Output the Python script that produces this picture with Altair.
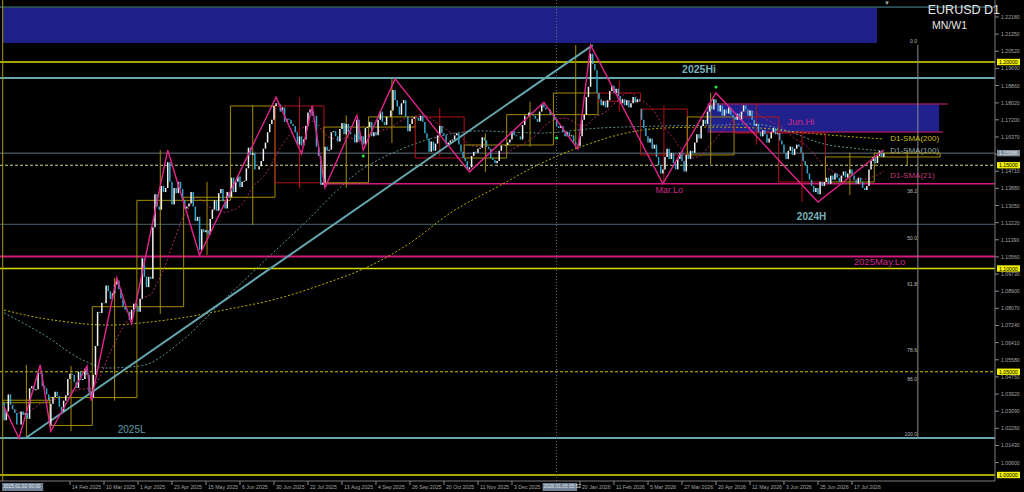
import altair as alt
import numpy as np
import pandas as pd

# ------------------------------------------------------------------ daily closes
closes_2025 = [
    # Jan
    1.0265, 1.0308, 1.0390, 1.0340, 1.0318, 1.0300, 1.0244, 1.0244, 1.0308, 1.0290, 1.0300,
    1.0272, 1.0420, 1.0430, 1.0410, 1.0415, 1.0495, 1.0490, 1.0430, 1.0420, 1.0390, 1.0362,
    # Feb
    1.0345, 1.0378, 1.0403, 1.0383, 1.0330, 1.0310, 1.0360, 1.0385, 1.0465, 1.0490,
    1.0485, 1.0450, 1.0422, 1.0500, 1.0460, 1.0465, 1.0515, 1.0485, 1.0400, 1.0375,
    # Mar
    1.0485, 1.0625, 1.0790, 1.0785, 1.0834, 1.0832, 1.0918, 1.0890, 1.0852, 1.0880, 1.0922,
    1.0942, 1.0900, 1.0855, 1.0815, 1.0800, 1.0790, 1.0752, 1.0800, 1.0830, 1.0815,
    # Apr
    1.0790, 1.0853, 1.1050, 1.0960, 1.0910, 1.0960, 1.0950, 1.1200, 1.1360, 1.1300, 1.1285,
    1.1400, 1.1370, 1.1390, 1.1515, 1.1420, 1.1310, 1.1390, 1.1365, 1.1420, 1.1385, 1.1330,
    # May
    1.1290, 1.1300, 1.1315, 1.1370, 1.1300, 1.1230, 1.1250, 1.1090, 1.1190, 1.1175, 1.1185,
    1.1165, 1.1240, 1.1285, 1.1330, 1.1280, 1.1365, 1.1385, 1.1325, 1.1290, 1.1370, 1.1345,
    # Jun
    1.1440, 1.1370, 1.1420, 1.1445, 1.1395, 1.1420, 1.1425, 1.1485, 1.1585, 1.1550, 1.1560,
    1.1480, 1.1480, 1.1495, 1.1520, 1.1580, 1.1610, 1.1660, 1.1700, 1.1720, 1.1787,
    # Jul
    1.1800, 1.1795, 1.1760, 1.1780, 1.1710, 1.1725, 1.1720, 1.1700, 1.1690, 1.1660, 1.1600, 1.1640,
    1.1595, 1.1625, 1.1690, 1.1755, 1.1770, 1.1740, 1.1740, 1.1590, 1.1545, 1.1405, 1.1415,
    # Aug
    1.1590, 1.1570, 1.1575, 1.1660, 1.1665, 1.1640, 1.1615, 1.1675, 1.1705, 1.1650, 1.1700,
    1.1660, 1.1650, 1.1650, 1.1610, 1.1720, 1.1620, 1.1640, 1.1600, 1.1680, 1.1685,
    # Sep
    1.1710, 1.1640, 1.1660, 1.1645, 1.1720, 1.1760, 1.1710, 1.1695, 1.1735, 1.1735, 1.1765,
    1.1865, 1.1815, 1.1785, 1.1745, 1.1800, 1.1815, 1.1735, 1.1665, 1.1700, 1.1725, 1.1734,
    # Oct
    1.1730, 1.1715, 1.1740, 1.1710, 1.1655, 1.1630, 1.1565, 1.1615, 1.1570, 1.1605, 1.1645, 1.1690,
    1.1655, 1.1645, 1.1600, 1.1610, 1.1620, 1.1625, 1.1645, 1.1655, 1.1600, 1.1565, 1.1535,
    # Nov
    1.1520, 1.1480, 1.1490, 1.1545, 1.1565, 1.1560, 1.1580, 1.1585, 1.1635, 1.1620,
    1.1590, 1.1580, 1.1535, 1.1525, 1.1510, 1.1520, 1.1570, 1.1595, 1.1595, 1.1598,
    # Dec
    1.1610, 1.1625, 1.1665, 1.1645, 1.1640, 1.1640, 1.1625, 1.1695, 1.1740, 1.1740, 1.1755,
    1.1745, 1.1740, 1.1725, 1.1710, 1.1760, 1.1795, 1.1780, 1.1770, 1.1770, 1.1745, 1.1745,
]

closes_2026 = [
    # Jan
    1.1720, 1.1690, 1.1680, 1.1690, 1.1660, 1.1640, 1.1660, 1.1640, 1.1645, 1.1610, 1.1600,
    1.1595, 1.1640, 1.1720, 1.1745, 1.1830, 1.1880, 1.2040, 1.1990, 1.1960, 1.1850,
    # Feb
    1.1820, 1.1790, 1.1810, 1.1780, 1.1815, 1.1860, 1.1885, 1.1850, 1.1870, 1.1835,
    1.1800, 1.1820, 1.1790, 1.1815, 1.1780, 1.1800, 1.1830, 1.1805, 1.1820, 1.1810,
    # Mar
    1.1720, 1.1680, 1.1640, 1.1610, 1.1630, 1.1580, 1.1600, 1.1540, 1.1500, 1.1460, 1.1480,
    1.1540, 1.1580, 1.1530, 1.1560, 1.1510, 1.1480, 1.1530, 1.1560, 1.1520, 1.1470, 1.1550,
    # Apr
    1.1530, 1.1570, 1.1560, 1.1610, 1.1650, 1.1630, 1.1690, 1.1720, 1.1700, 1.1760, 1.1790,
    1.1770, 1.1820, 1.1800, 1.1760, 1.1790, 1.1740, 1.1770, 1.1750, 1.1780, 1.1745, 1.1730,
    # May
    1.1720, 1.1750, 1.1720, 1.1760, 1.1790, 1.1770, 1.1740, 1.1765, 1.1720, 1.1690, 1.1700,
    1.1660, 1.1640, 1.1670, 1.1650, 1.1610, 1.1630, 1.1660, 1.1680, 1.1650, 1.1655,
    # Jun
    1.1620, 1.1600, 1.1560, 1.1530, 1.1570, 1.1590, 1.1550, 1.1580, 1.1600, 1.1590, 1.1560,
    1.1520, 1.1500, 1.1460, 1.1430, 1.1400, 1.1370, 1.1390, 1.1360, 1.1420, 1.1400, 1.1419,
    # Jul
    1.1440, 1.1410, 1.1450, 1.1430, 1.1460, 1.1440, 1.1420, 1.1450, 1.1470, 1.1440, 1.1460, 1.1480,
    1.1450, 1.1430, 1.1410, 1.1440, 1.1420, 1.1390, 1.1380, 1.1400, 1.1480, 1.1520, 1.1540,
    # Aug
    1.1510, 1.1545, 1.1570, 1.1540, 1.15586,
]

# ------------------------------------------------------------------ monthly candles (MN overlay)
month_bars = [22, 20, 21, 22, 22, 21, 23, 21, 22, 23, 20, 22,
              21, 20, 22, 22, 21, 22, 23, 31]
month_open = [1.0350, 1.0240, 1.0375, 1.0815, 1.1330, 1.1345, 1.1787, 1.1415, 1.1685, 1.1734,
              1.1535, 1.1598, 1.1745, 1.1850, 1.1772, 1.1550, 1.1734, 1.1656, 1.1419, 1.1540]
month_high = [1.0533, 1.0528, 1.0955, 1.1573, 1.1420, 1.1790, 1.1830, 1.1742, 1.1918, 1.1778,
              1.1655, 1.1808, 1.2082, 1.1910, 1.1790, 1.1850, 1.1800, 1.1670, 1.1560, 1.1574]
month_low = [1.0178, 1.0212, 1.0360, 1.0780, 1.1065, 1.1210, 1.1391, 1.1391, 1.1608, 1.1542,
             1.1468, 1.1590, 1.1578, 1.1760, 1.1410, 1.1505, 1.1600, 1.1322, 1.1356, 1.1500]
month_close = [1.0362, 1.0375, 1.0815, 1.1330, 1.1345, 1.1787, 1.1415, 1.1685, 1.1734, 1.1535,
               1.1598, 1.1745, 1.1850, 1.1810, 1.1550, 1.1734, 1.1656, 1.1419, 1.1540, 1.15586]

# ------------------------------------------------------------------ moving averages (sampled)
sma200_bar = [0, 12, 26, 50, 64, 83, 106, 128, 149, 172, 191, 210, 233, 252, 271, 295,
              310, 332, 356, 368, 400, 414]
sma200_val = [1.0799, 1.0770, 1.0746, 1.0726, 1.0736, 1.0760, 1.0804, 1.0852, 1.0920, 1.1012,
              1.1123, 1.1269, 1.1400, 1.1506, 1.1588, 1.1661, 1.1680, 1.1685, 1.1680, 1.1666,
              1.1637, 1.1627]
sma100_bar = [0, 8, 18, 37, 48, 64, 83, 102, 119, 139, 168, 186, 210, 224, 252, 280, 309,
              337, 352, 370, 384, 403, 414]
sma100_val = [1.0785, 1.0741, 1.0683, 1.0557, 1.0518, 1.0528, 1.0644, 1.0833, 1.1002, 1.1196,
              1.1477, 1.1574, 1.1651, 1.1666, 1.1656, 1.1680, 1.1690, 1.1695, 1.1700, 1.1661,
              1.1608, 1.1579, 1.1569]

# ------------------------------------------------------------------ zigzag, trendline, fractals
zz_bar = [0, 7, 17, 22, 39, 41, 53, 60, 77, 92, 128, 140, 145, 151, 166, 169, 184, 219,
          254, 270, 276, 310, 335, 383, 414]
zz_price = [1.0330, 1.0178, 1.0533, 1.0212, 1.0528, 1.0360, 1.0955, 1.0733, 1.1573, 1.1065,
            1.1830, 1.1556, 1.1788, 1.1391, 1.1742, 1.1574, 1.1918, 1.1468, 1.1805, 1.1578,
            1.2082, 1.1410, 1.1850, 1.1322, 1.1574]
trend_bar = [10, 277]
trend_price = [1.0178, 1.2082]
dot_bar = [169, 260, 335]
dot_price = [1.1545, 1.1632, 1.1879]

# ------------------------------------------------------------------ levels
solid_level_price = [1.2266, 1.2000, 1.1922, 1.15586, 1.1214, 1.1058, 1.1000, 1.0179, 1.0000]
solid_level_color = ["#4E8C94", "#DCDC00", "#66A6AF", "#67737F", "#44676F", "#D4197C",
                     "#DCDC00", "#66A6AF", "#DCDC00"]
solid_level_width = [1, 1.6, 2, 1, 1, 2, 1.6, 2, 1.6]
dashed_level_price = [1.1500, 1.0500]
dashed_level_color = ["#C9D79A", "#C8C400"]
mar_lo_price = 1.1410
mar_lo_start = 149
jun_hi_top, jun_hi_bottom = 1.1797, 1.1661
top_zone_hi, top_zone_lo = 1.2262, 1.2092
fib_hi, fib_lo = 1.2082, 1.0178
fib_ratio = [0.0, 38.2, 50.0, 61.8, 78.6, 86.0, 100.0]

axis_ticks = [1.22180, 1.21350, 1.20520, 1.19690, 1.18860, 1.18020, 1.17200, 1.16370, 1.15540,
              1.14710, 1.13880, 1.13050, 1.12220, 1.11390, 1.10560, 1.09730, 1.08900, 1.08070,
              1.07240, 1.06410, 1.05580, 1.04750, 1.03920, 1.03090, 1.02260, 1.01430, 1.00600]
round_levels = [1.20, 1.15, 1.10, 1.05, 1.00]
last_price = 1.15586

date_bar = [31, 47, 63, 79, 95, 111, 127, 143, 159, 175, 191, 207, 223, 239,
            271, 287, 303, 319, 335, 351, 367, 383, 399]
date_text = ["14 Feb 2025", "10 Mar 2025", "1 Apr 2025", "23 Apr 2025",
             "15 May 2025", "6 Jun 2025", "30 Jun 2025", "22 Jul 2025", "13 Aug 2025",
             "4 Sep 2025", "26 Sep 2025", "20 Oct 2025", "11 Nov 2025", "3 Dec 2025",
             "20 Jan 2026", "11 Feb 2026", "5 Mar 2026", "27 Mar 2026",
             "20 Apr 2026", "12 May 2026", "3 Jun 2026", "25 Jun 2026", "17 Jul 2026"]
cursor_bar = 260

# ------------------------------------------------------------------ canvas mapping
W, H = 1024, 492
PX_BAR = 2.125          # pixels per daily bar
X_OFF = 4.1             # pixel of bar 0
PX_PRICE = 2065.0       # pixels per 1.0 of price
Y_REF_PIX, Y_REF = 62.0, 1.20
X_DOMAIN = [-X_OFF / PX_BAR, (W - X_OFF) / PX_BAR]
Y_DOMAIN = [Y_REF - (H - Y_REF_PIX) / PX_PRICE, Y_REF + Y_REF_PIX / PX_PRICE]
AXIS_X = 995
AXIS_Y = 481
FONT = "Liberation Sans"
AXIS_FS = 5.2

xs = alt.Scale(domain=X_DOMAIN, nice=False, zero=False)
ys = alt.Scale(domain=Y_DOMAIN, nice=False, zero=False)


def ex(f):
    return alt.X(f"{f}:Q", scale=xs, axis=None)


def ey(f):
    return alt.Y(f"{f}:Q", scale=ys, axis=None)


def col(f):
    return alt.Color(f"{f}:N", scale=None)


# ------------------------------------------------------------------ tables
closes = closes_2025 + closes_2026
n = len(closes)
month_first = np.concatenate([[0], np.cumsum(month_bars)[:-1]])
opens = [month_open[0]] + closes[:-1]
for m, fb in enumerate(month_first):
    if fb < n:
        opens[int(fb)] = month_open[m]

candles = pd.DataFrame({"bar": np.arange(n), "open": opens, "close": closes})
candles["c"] = np.where(candles["close"] >= candles["open"], "#F2F2F2", "#33A7CB")

sma21 = pd.DataFrame({"bar": np.arange(n),
                      "v": pd.Series(closes).rolling(21, min_periods=1).mean()})
sma200 = pd.DataFrame({"bar": sma200_bar, "v": sma200_val})
sma100 = pd.DataFrame({"bar": sma100_bar, "v": sma100_val})

months = pd.DataFrame({
    "b0": month_first - 0.5,
    "b1": month_first + np.array(month_bars) - 0.5,
    "mid": month_first + (np.array(month_bars) - 1) / 2.0,
    "open": month_open, "close": month_close, "high": month_high, "low": month_low,
})
months["c"] = np.where(months["close"] >= months["open"], "#A48C00", "#B01419")

zigzag = pd.DataFrame({"bar": zz_bar, "p": zz_price})
trend = pd.DataFrame({"bar": trend_bar, "p": trend_price})
dots = pd.DataFrame({"bar": dot_bar, "p": dot_price})

solid_levels = pd.DataFrame({"p": solid_level_price, "c": solid_level_color,
                             "w": solid_level_width})
dashed_levels = pd.DataFrame({"p": dashed_level_price, "c": dashed_level_color})

base = alt.Chart(pd.DataFrame({"k": [0]}))
layers = []

# blue zones
top_zone = pd.DataFrame({"p0": [top_zone_lo], "p1": [top_zone_hi]})
layers.append(alt.Chart(top_zone).mark_rect(color="#1F1F88").encode(
    x=alt.value(2), x2=alt.value(877), y=ey("p0"), y2=alt.Y2("p1")))
jun_zone = pd.DataFrame({"b0": [331], "b1": [440], "p0": [jun_hi_bottom], "p1": [jun_hi_top]})
layers.append(alt.Chart(jun_zone).mark_rect(color="#21218E").encode(
    x=ex("b0"), x2=alt.X2("b1"), y=ey("p0"), y2=alt.Y2("p1")))
jun_edges = pd.DataFrame({"b0": [331, 331], "b1": [444, 442], "p": [jun_hi_top, jun_hi_bottom]})
layers.append(alt.Chart(jun_edges).mark_rule(color="#8E1A5C", strokeWidth=1.5).encode(
    x=ex("b0"), x2=alt.X2("b1"), y=ey("p")))

# horizontal levels
layers.append(alt.Chart(solid_levels).mark_rule().encode(
    x=alt.value(0), x2=alt.value(AXIS_X), y=ey("p"), color=col("c"),
    strokeWidth=alt.StrokeWidth("w:Q", scale=None)))
layers.append(alt.Chart(dashed_levels).mark_rule(strokeWidth=1, strokeDash=[3, 2]).encode(
    x=alt.value(0), x2=alt.value(AXIS_X), y=ey("p"), color=col("c")))
mar_lo = pd.DataFrame({"b0": [mar_lo_start], "p": [mar_lo_price]})
layers.append(alt.Chart(mar_lo).mark_rule(color="#D4197C", strokeWidth=1.5).encode(
    x=ex("b0"), x2=alt.value(AXIS_X), y=ey("p")))

# vertical guides
layers.append(base.mark_rule(color="#A89A00", strokeWidth=1).encode(
    x=alt.value(2.7), y=alt.value(0), y2=alt.value(AXIS_Y)))
cursor = pd.DataFrame({"bar": [cursor_bar]})
layers.append(alt.Chart(cursor).mark_rule(color="#6A6A6A", strokeWidth=1, strokeDash=[1, 2]).encode(
    x=ex("bar"), y=alt.value(0), y2=alt.value(AXIS_Y)))
fib_line = pd.DataFrame({"bar": [430], "p0": [fib_lo], "p1": [fib_hi]})
layers.append(alt.Chart(fib_line).mark_rule(color="#8C8C8C", strokeWidth=1).encode(
    x=ex("bar"), y=ey("p0"), y2=alt.Y2("p1")))

# moving averages
layers.append(alt.Chart(sma200).mark_line(color="#BDB200", strokeWidth=1, strokeDash=[2, 2],
                                          interpolate="monotone").encode(x=ex("bar"), y=ey("v")))
layers.append(alt.Chart(sma100).mark_line(color="#5E9496", strokeWidth=1, strokeDash=[2, 2],
                                          interpolate="monotone").encode(x=ex("bar"), y=ey("v")))
layers.append(alt.Chart(sma21).mark_line(color="#B3276C", strokeWidth=1, strokeDash=[2, 2]).encode(
    x=ex("bar"), y=ey("v")))

# monthly candle outlines and wicks
layers.append(alt.Chart(months).mark_rule(strokeWidth=1).encode(
    x=ex("mid"), y=ey("high"), y2=alt.Y2("low"), color=col("c")))
layers.append(alt.Chart(months).mark_rect(fillOpacity=0, strokeWidth=1).encode(
    x=ex("b0"), x2=alt.X2("b1"), y=ey("open"), y2=alt.Y2("close"),
    stroke=alt.Stroke("c:N", scale=None)))

# trendline from the 2025 low to the January high
layers.append(alt.Chart(trend).mark_line(color="#66A6AF", strokeWidth=2).encode(
    x=ex("bar"), y=ey("p")))

# daily candles
layers.append(alt.Chart(candles).mark_rule(strokeWidth=1.5).encode(
    x=ex("bar"), y=ey("open"), y2=alt.Y2("close"), color=col("c")))

# zigzag and fractal dots
layers.append(alt.Chart(zigzag).mark_line(color="#E2248C", strokeWidth=1.4).encode(
    x=ex("bar"), y=ey("p")))
layers.append(alt.Chart(dots).mark_circle(color="#22E04A", size=10, opacity=1).encode(
    x=ex("bar"), y=ey("p")))

# level annotations
ann = pd.DataFrame([
    {"t": "2025Hi", "bar": 327, "p": 1.1961, "c": "#79B1B9", "s": 10.5, "w": "bold", "a": "center"},
    {"t": "2024H", "bar": 380, "p": 1.1249, "c": "#79B1B9", "s": 10, "w": "bold", "a": "center"},
    {"t": "2025L", "bar": 60, "p": 1.0218, "c": "#5E9EA8", "s": 10, "w": "normal", "a": "center"},
    {"t": "Mar.Lo", "bar": 313, "p": 1.1380, "c": "#D0288A", "s": 9, "w": "normal", "a": "center"},
    {"t": "Jun.Hi", "bar": 375, "p": 1.1709, "c": "#D0288A", "s": 9.5, "w": "normal", "a": "center"},
    {"t": "2025May.Lo", "bar": 412, "p": 1.1031, "c": "#D0288A", "s": 9.5, "w": "normal", "a": "center"},
    {"t": "D1-SMA(200)", "bar": 417, "p": 1.1627, "c": "#C9BE12", "s": 8, "w": "normal", "a": "left"},
    {"t": "D1-SMA(100)", "bar": 417, "p": 1.1569, "c": "#8FA4A8", "s": 8, "w": "normal", "a": "left"},
    {"t": "D1-SMA(21)", "bar": 417, "p": 1.1448, "c": "#C23A78", "s": 8, "w": "normal", "a": "left"},
])
for (w, a), grp in ann.groupby(["w", "a"]):
    layers.append(alt.Chart(grp).mark_text(font=FONT, fontWeight=w, align=a, baseline="middle").encode(
        x=ex("bar"), y=ey("p"), text="t:N", color=col("c"), size=alt.Size("s:Q", scale=None)))

# fibonacci level labels
fib = pd.DataFrame({"r": fib_ratio})
fib["p"] = fib_hi - fib["r"] / 100.0 * (fib_hi - fib_lo)
fib["t"] = fib["r"].map(lambda v: f"{v:.1f}")
fib["bar"] = 429.6
layers.append(alt.Chart(fib).mark_text(font=FONT, fontSize=5, align="right", baseline="bottom",
                                       color="#BFBFBF", dy=-1).encode(
    x=ex("bar"), y=ey("p"), text="t:N"))

# title
layers.append(base.mark_text(font=FONT, fontSize=12.5, align="right", baseline="middle",
                             color="#E6E6E6", text="EURUSD D1").encode(
    x=alt.value(1000), y=alt.value(10)))
layers.append(base.mark_text(font=FONT, fontSize=10.5, align="left", baseline="middle",
                             color="#E6E6E6", text="MN/W1").encode(
    x=alt.value(932), y=alt.value(26)))
layers.append(base.mark_text(font=FONT, fontSize=6, align="center", baseline="middle",
                             color="#A8A8A8", text="▼").encode(
    x=alt.value(887), y=alt.value(3)))

# frame
layers.append(base.mark_rule(color="#7A7A7A", strokeWidth=1).encode(
    x=alt.value(0), x2=alt.value(AXIS_X), y=alt.value(AXIS_Y)))
layers.append(base.mark_rule(color="#7A7A7A", strokeWidth=1).encode(
    x=alt.value(AXIS_X), y=alt.value(0), y2=alt.value(AXIS_Y)))

# price axis
ticks = pd.DataFrame({"p": axis_ticks})
ticks["t"] = ticks["p"].map(lambda v: f"{v:.5f}")
layers.append(alt.Chart(ticks).mark_rule(color="#8A8A8A", strokeWidth=1).encode(
    x=alt.value(AXIS_X), x2=alt.value(AXIS_X + 4), y=ey("p")))
layers.append(alt.Chart(ticks).mark_text(font=FONT, fontSize=AXIS_FS, align="left", baseline="middle",
                                         color="#A4A4A4").encode(
    x=alt.value(1001), y=ey("p"), text="t:N"))

HALF = 3.2 / PX_PRICE
rl = pd.DataFrame({"p": round_levels})
rl["t"] = rl["p"].map(lambda v: f"{v:.5f}")
rl["top"] = rl["p"] + HALF
rl["bot"] = rl["p"] - HALF
layers.append(alt.Chart(rl).mark_rect(color="#F0F000").encode(
    x=alt.value(997), x2=alt.value(1020), y=ey("top"), y2=alt.Y2("bot")))
layers.append(alt.Chart(rl).mark_text(font=FONT, fontSize=AXIS_FS, align="left", baseline="middle",
                                      color="#000000").encode(
    x=alt.value(999), y=ey("p"), text="t:N"))
lp = pd.DataFrame({"p": [last_price], "top": [last_price + HALF], "bot": [last_price - HALF],
                   "t": [f"{last_price:.5f}"]})
layers.append(alt.Chart(lp).mark_rect(color="#7D8B99").encode(
    x=alt.value(997), x2=alt.value(1020), y=ey("top"), y2=alt.Y2("bot")))
layers.append(alt.Chart(lp).mark_text(font=FONT, fontSize=AXIS_FS, align="left", baseline="middle",
                                      color="#E8E8E8").encode(
    x=alt.value(999), y=ey("p"), text="t:N"))

# time axis
dates = pd.DataFrame({"bar": date_bar, "t": date_text})
layers.append(alt.Chart(dates).mark_rule(color="#8A8A8A", strokeWidth=1).encode(
    x=ex("bar"), y=alt.value(AXIS_Y), y2=alt.value(AXIS_Y + 4)))
layers.append(alt.Chart(dates).mark_text(font=FONT, fontSize=AXIS_FS, align="left", baseline="middle",
                                         color="#A4A4A4", dx=2).encode(
    x=ex("bar"), y=alt.value(487), text="t:N"))
stamps = pd.DataFrame({"b0": [-0.9, cursor_bar - 6.6], "b1": [18.4, cursor_bar + 9.6],
                       "t": ["2025.01.02 00:00", "2026.01.05 05:52"]})
layers.append(alt.Chart(stamps).mark_rect(color="#6F8194").encode(
    x=ex("b0"), x2=alt.X2("b1"), y=alt.value(483), y2=alt.value(491)))
layers.append(alt.Chart(stamps).mark_text(font=FONT, fontSize=4.8, align="left", baseline="middle",
                                          color="#E4E8EC", dx=1).encode(
    x=ex("b0"), y=alt.value(487), text="t:N"))

chart = alt.layer(*layers).properties(
    width=W, height=H, padding=0,
    autosize=alt.AutoSizeParams(type="none"),
    background="#000000",
).configure_view(strokeWidth=0)

chart.save("out.html", embed_options={"renderer": "svg", "actions": False})
